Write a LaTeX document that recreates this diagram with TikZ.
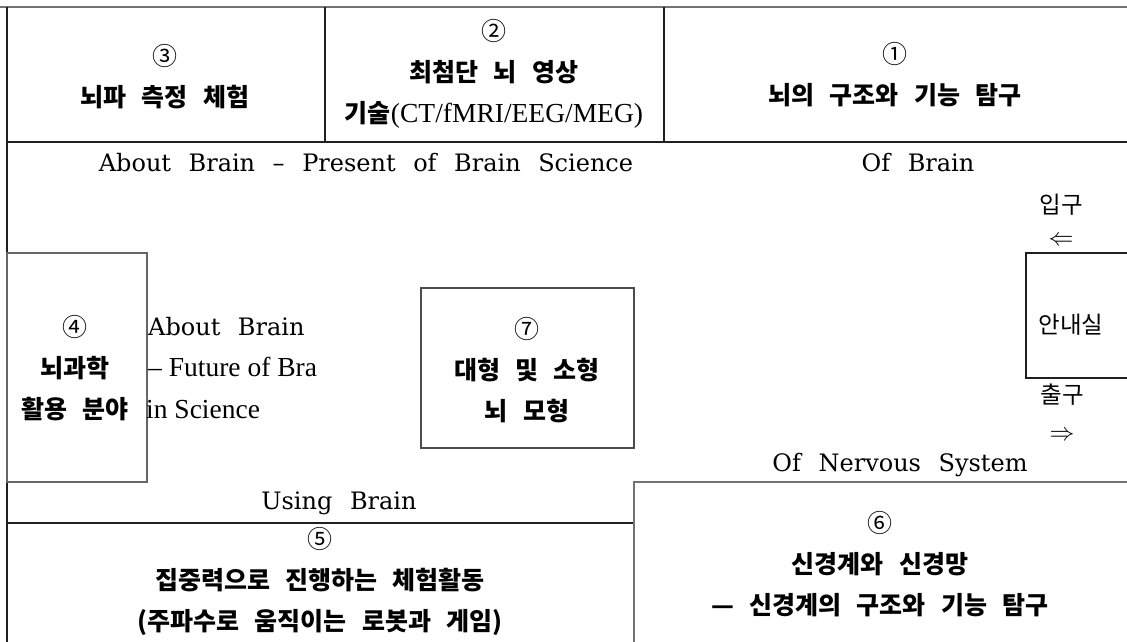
\documentclass[tikz,border=0pt]{standalone}
\usepackage{fontspec}
\setmainfont{Liberation Serif}
\newfontfamily\kr[WordSpace=2.7]{Noto Sans CJK KR}
\newfontfamily\slab[WordSpace=2.3]{DejaVu Serif}
\newcommand\cnum[1]{{\kr\mdseries\fontsize{25}{41}\selectfont #1}}
\begin{document}
\begin{tikzpicture}[x=1pt,y=-1pt,
  wall/.style={line width=1.4pt, draw=black!88},
  gwall/.style={line width=1.6pt, draw=black!55},
  kb/.style={font=\kr\bfseries\fontsize{25}{41}\selectfont, align=center, inner sep=0pt},
  kr/.style={font=\kr\fontsize{23.5}{27}\selectfont, inner sep=0pt},
  en/.style={font=\slab\fontsize{24}{28}\selectfont, inner sep=0pt},
  tm/.style={font=\fontsize{27.5}{32}\selectfont, inner sep=0pt, anchor=west},
  arr/.style={font=\fontsize{27}{30}\selectfont, inner sep=0pt},
]
\useasboundingbox (0,0) rectangle (1127,642);
\fill[white] (0,0) rectangle (1127,642);

% walls of the plan
\draw[gwall] (0,7) -- (1127,7);
\draw[wall] (7,7) -- (7,645);
\draw[wall] (325,7) -- (325,142);
\draw[wall] (664,7) -- (664,142);
\draw[wall] (7,142) -- (1130,142);
\draw[wall] (7,523) -- (634,523);
\draw[gwall] (634,645) |- (1130,482);
\draw[wall] (1130,253) -| (1026,378) -- (1130,378);

% room 4 and room 7
\node[kb, draw=black!60, line width=1.5pt, minimum width=140, minimum height=229] (b4) at (77,367.5) {};
\node[kb] (t4) at (75,368) {\cnum{④}\\뇌과학\\활용 분야};
\node[kb, draw=black!70, line width=1.3pt, minimum width=213, minimum height=160] (b7) at (527.5,368) {};
\node[kb] (t7) at (527,370) {\cnum{⑦}\\대형 및 소형\\뇌 모형};

% top row rooms
\node[kb] (t3) at (165,77) {\cnum{③}\\뇌파 측정 체험};
\node[kb] (t2) at (494,74) {\cnum{②}\\최첨단 뇌 영상\\기술{\rmfamily\mdseries\fontsize{27.5}{41}\selectfont(CT/fMRI/EEG/MEG)}};
\node[kb] (t1) at (895,75) {\cnum{①}\\뇌의 구조와 기능 탐구};

% bottom rooms
\node[kb] (t5) at (320,581) {\cnum{⑤}\\집중력으로 진행하는 체험활동\\(주파수로 움직이는 로봇과 게임)};
\node[kb] (t6) at (880,564) {\cnum{⑥}\\신경계와 신경망\\— 신경계의 구조와 기능 탐구};

% corridor labels
\node[en] (c1) at (366,163) {About Brain – Present of Brain Science};
\node[en] (c2) at (918,163) {Of Brain};
\node[en] (c3) at (900,465) {Of Nervous System};
\node[en] (c4) at (339,503) {Using Brain};
\node[en, anchor=west] (c5) at (148,327) {About Brain};
\node[tm] (c6) at (148,367) {– Future of Bra};
\node[tm] (c7) at (146,410) {in Science};

% entrance / exit
\node[kr] (in) at (1061,205) {입구};
\node[arr] (inarr) at (1061,241) {$\Leftarrow$};
\node[kr] (info) at (1071,325) {안내실};
\node[kr] (out) at (1062,395) {출구};
\node[arr] (outarr) at (1062,436) {$\Rightarrow$};
\end{tikzpicture}
\end{document}
